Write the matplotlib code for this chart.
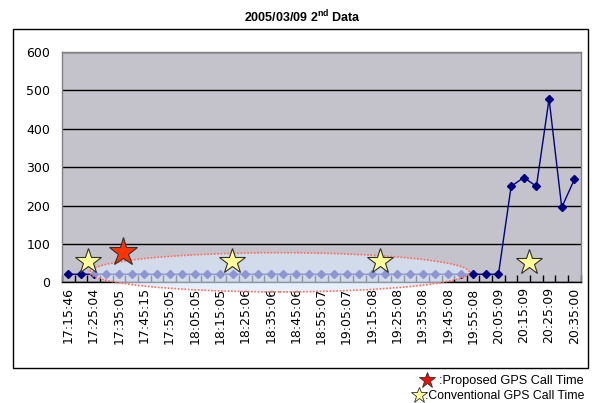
import matplotlib
matplotlib.use("Agg")
import matplotlib.pyplot as plt
from matplotlib.patches import Ellipse, Rectangle
from matplotlib.lines import Line2D
from matplotlib.ticker import FixedLocator

plt.rcParams['font.family'] = ['DejaVu Sans']
plt.rcParams['mathtext.fontset'] = 'custom'
plt.rcParams['mathtext.rm'] = 'Liberation Sans:bold'
plt.rcParams['mathtext.bf'] = 'Liberation Sans:bold'

# Sample times (every other sample carries a label)
time_labels = ["17:15:46", "17:25:04", "17:35:05", "17:45:15", "17:55:05",
               "18:05:05", "18:15:05", "18:25:06", "18:35:06", "18:45:06",
               "18:55:07", "19:05:07", "19:15:08", "19:25:08", "19:35:08",
               "19:45:08", "19:55:08", "20:05:09", "20:15:09", "20:25:09",
               "20:35:00"]

# Measured values, one per sample
values = [21] * 35 + [250, 273, 250, 478, 195, 268]

# GPS call markers (sample position, height)
proposed_x = [4.35]
proposed_y = [79]
conventional_x = [1.58, 12.96, 24.6, 36.4]
conventional_y = [56, 56, 56, 54]

# Highlighted low-activity span (centre, width, height)
span_center = (16.7, 26)
span_width = 30.0
span_height = 102

fig = plt.figure(figsize=(5.92, 4.03), dpi=100)
fig.patch.set_facecolor('white')

W, H = 592, 403
ax = fig.add_axes([62 / W, (H - 282.3) / H, (580.7 - 62) / W, (282.3 - 52) / H])
ax.set_facecolor('#c4c3cb')

n = len(values)
xs = list(range(n))
ax.plot(xs, values, color='#000080', lw=1.0, marker='D', ms=3.8,
        markeredgecolor='#000080', markerfacecolor='#000080', zorder=2)

ax.set_xlim(-0.5, n - 0.5)
ax.set_ylim(0, 600)
ax.set_yticks(range(0, 601, 100))
ax.yaxis.grid(True, color='black', lw=1.0)
ax.set_axisbelow(True)

ax.set_xticks(list(range(0, n, 2)))
ax.set_xticklabels(time_labels, rotation=90, fontsize=9, va='top')
ax.xaxis.set_minor_locator(FixedLocator([i + 0.5 for i in range(-1, n)]))
ax.tick_params(axis='x', which='major', length=0, pad=3.6)
ax.tick_params(axis='x', which='minor', length=5, direction='in', width=1, color='black')
ax.tick_params(axis='y', length=0, pad=8.5, labelsize=9)

for side in ['left', 'right', 'top']:
    ax.spines[side].set_color('#808080')
    ax.spines[side].set_linewidth(1.0)
ax.spines['bottom'].set_color('black')
ax.spines['bottom'].set_linewidth(1.0)

span = Ellipse(span_center, span_width, span_height, facecolor=(218/255, 232/255, 252/255),
               alpha=0.65, edgecolor='none', zorder=3, clip_on=False)
ax.add_patch(span)
span_edge = Ellipse(span_center, span_width, span_height, facecolor='none',
                    edgecolor='#ff6a5a', lw=1.2, linestyle=(0, (1, 1)), zorder=3.1,
                    clip_on=False)
ax.add_patch(span_edge)

ax.plot(conventional_x, conventional_y, linestyle='none', marker='*', ms=19,
        markerfacecolor='#ffff99', markeredgecolor='#303030', markeredgewidth=0.8,
        zorder=4, clip_on=False)
ax.plot(proposed_x, proposed_y, linestyle='none', marker='*', ms=21.5,
        markerfacecolor='#ff3300', markeredgecolor='#303030', markeredgewidth=0.8,
        zorder=4, clip_on=False)

# Chart frame
frame = Rectangle((13 / W, (H - 368) / H), (588 - 13) / W, (368 - 29.3) / H,
                  transform=fig.transFigure, facecolor='none', edgecolor='black',
                  lw=1.0, zorder=0)
fig.add_artist(frame)

fig.text(302 / W, (H - 17) / H, r"2005/03/09 2$^{\mathrm{nd}}$ Data", ha='center',
         va='center', fontsize=9, fontweight='bold', family='Liberation Sans')

# Key for the call markers
fig.text(584 / W, (H - 381) / H, ":Proposed GPS Call Time", ha='right', va='center',
         fontsize=9.2, family='Liberation Sans')
fig.text(584 / W, (H - 396) / H, ":Conventional GPS Call Time", ha='right', va='center',
         fontsize=8.8, family='Liberation Sans')
fig.add_artist(Line2D([427 / W], [(H - 380) / H], marker='*', ms=12, linestyle='none',
                      markerfacecolor='#ee1100', markeredgecolor='#303030',
                      markeredgewidth=0.6, transform=fig.transFigure))
fig.add_artist(Line2D([419 / W], [(H - 395) / H], marker='*', ms=12, linestyle='none',
                      markerfacecolor='#ffff99', markeredgecolor='#303030',
                      markeredgewidth=0.6, transform=fig.transFigure))

fig.savefig('out.png', dpi=100, facecolor='white')
